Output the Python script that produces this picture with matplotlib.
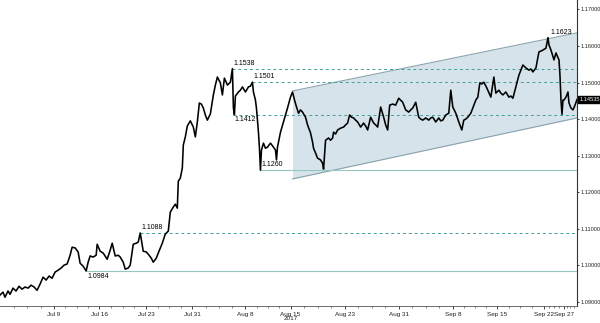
import matplotlib
matplotlib.use("Agg")
import matplotlib.pyplot as plt
import numpy as np
from matplotlib.ticker import FixedLocator, FuncFormatter

# ---- data ----
bar = [0, 3, 5, 8, 10, 13, 16, 19, 22, 25, 28, 31, 34, 37, 40, 43, 46, 49, 52, 55,
       58, 61, 64, 67, 70, 72, 75, 78, 80, 83, 86, 88, 90, 93, 96, 97, 100,
       103, 107, 110, 112, 115, 118, 120, 123, 125, 128, 130, 133, 136, 138, 140,
       143, 146, 148, 151, 153, 156, 158, 162, 165, 168, 170, 173, 175, 177, 178,
       180, 182, 183, 185, 187, 190, 193, 195, 197, 199,
       201, 203, 205, 207, 210, 213, 215, 217, 220, 222, 224, 227, 230, 232, 233,
       234, 235, 238, 240, 242, 245, 248, 250, 252, 253, 255, 256, 258, 259, 260,
       261, 263, 265, 267, 270, 273, 275, 276, 277, 280, 283, 285, 287, 290, 292,
       294, 296, 298, 300, 302, 305, 307, 310, 312, 313, 315, 317, 320, 322, 323,
       324, 325, 328, 330, 332, 333, 335, 337, 340, 343, 345, 347, 349, 351, 353,
       355, 357, 360, 363, 365, 367, 370, 373, 375, 377, 380, 383, 385, 387, 389,
       392, 395, 398, 402, 405, 408, 410, 412, 415, 418, 420, 422, 425, 428, 430,
       432, 435, 438, 440, 442, 445, 448, 450, 452, 455, 458, 461, 463, 465, 467,
       470, 473, 475, 477, 479, 481, 483, 486, 489,
       490, 493, 495, 498, 500, 502, 505, 508, 510, 512, 515, 518, 520, 522, 525,
       528, 530, 532, 535, 538, 540, 542, 545, 547, 548, 550, 553, 555, 558, 559,
       560, 561, 562, 563, 565, 567, 568, 570, 572, 574, 576]

close = [1.0918, 1.0926, 1.0912, 1.0929, 1.0920, 1.0937, 1.0929, 1.0942, 1.0934, 1.0940,
         1.0937, 1.0945, 1.0940, 1.0931, 1.0948, 1.0967, 1.0959, 1.0970, 1.0964, 1.0981,
         1.0986, 1.0992, 1.1000, 1.1003, 1.1027, 1.1049, 1.1047, 1.1036, 1.1005, 1.0997,
         1.0984, 1.1008, 1.1025, 1.1022, 1.1027, 1.1057, 1.1038,
         1.1033, 1.1016, 1.1041, 1.1060, 1.1025, 1.1027, 1.1022, 1.1008, 1.0989, 1.0992,
         1.1000, 1.1057, 1.1060, 1.1063, 1.1088, 1.1038, 1.1036, 1.1030, 1.1019, 1.1008,
         1.1019, 1.1033, 1.1060, 1.1085, 1.1093, 1.1145, 1.1159, 1.1167, 1.1156, 1.1230,
         1.1238, 1.1266, 1.1329, 1.1351, 1.1381, 1.1395, 1.1378, 1.1351, 1.1392, 1.1444,
         1.1441, 1.1430, 1.1411, 1.1397, 1.1414, 1.1466, 1.1493, 1.1515, 1.1499, 1.1466,
         1.1512, 1.1493, 1.1501, 1.1538, 1.1430, 1.1412, 1.1463, 1.1474, 1.1479, 1.1488,
         1.1474, 1.1488, 1.1490, 1.1501, 1.1474, 1.1452, 1.1430, 1.1364, 1.1320, 1.1260,
         1.1315, 1.1334, 1.1320, 1.1323, 1.1334, 1.1323, 1.1315, 1.1288, 1.1323, 1.1364,
         1.1392, 1.1411, 1.1430, 1.1460, 1.1474,
         1.1452, 1.1433, 1.1416, 1.1425, 1.1419, 1.1405, 1.1384, 1.1362, 1.1337, 1.1320,
         1.1307, 1.1293, 1.1288, 1.1279, 1.1263, 1.1301, 1.1342, 1.1348, 1.1342, 1.1348,
         1.1364, 1.1359, 1.1370, 1.1375, 1.1378, 1.1384, 1.1389, 1.1411, 1.1405, 1.1403,
         1.1397, 1.1392, 1.1378, 1.1389, 1.1381, 1.1370, 1.1405, 1.1389, 1.1384, 1.1378,
         1.1433, 1.1405, 1.1384, 1.1370, 1.1438,
         1.1441, 1.1438, 1.1457, 1.1446, 1.1425, 1.1419, 1.1425, 1.1430, 1.1446, 1.1405,
         1.1400, 1.1397, 1.1403, 1.1397, 1.1403, 1.1405, 1.1392, 1.1403, 1.1395, 1.1397,
         1.1411, 1.1416, 1.1479, 1.1433, 1.1416, 1.1392, 1.1370, 1.1397, 1.1400, 1.1405,
         1.1416, 1.1438, 1.1452, 1.1460, 1.1499, 1.1496, 1.1501, 1.1485, 1.1466,
         1.1460, 1.1515, 1.1471, 1.1479, 1.1471, 1.1466, 1.1474, 1.1460, 1.1463, 1.1457,
         1.1488, 1.1520, 1.1534, 1.1548, 1.1540, 1.1534, 1.1537, 1.1529, 1.1540, 1.1584,
         1.1586, 1.1589, 1.1594, 1.1623, 1.1603, 1.1589, 1.1562, 1.1581, 1.1562, 1.1520,
         1.1452, 1.1413, 1.1452, 1.1452, 1.1460, 1.1474, 1.1444, 1.1430, 1.1425, 1.1438,
         1.14535]

level_values = [1.1538, 1.1501, 1.1412, 1.1260, 1.1088, 1.0984]
level_start = [232, 252, 233, 260, 140, 86]
level_dashed = [True, True, True, False, True, False]
level_label_above = [True, True, False, True, True, False]

channel_x = [292, 576]
channel_upper = [1.1477, 1.1636]
channel_lower = [1.1236, 1.1403]

peak_bar = 547
peak_value = 1.1623
last_value = 1.14535

tick_pos = [54, 99, 146, 192, 245, 290, 344, 398, 452, 496, 543, 563]
tick_labels = ["Jul 9", "Jul 16", "Jul 23", "Jul 31", "Aug 8", "Aug 15\n2017",
               "Aug 23", "Aug 31", "Sep 8", "Sep 15", "Sep 22", "Sep 27"]
y_ticks = [1.09, 1.10, 1.11, 1.12, 1.13, 1.14, 1.15, 1.16, 1.17]

# ---- figure ----
plt.rcParams['font.family'] = ['Liberation Sans', 'DejaVu Sans']
fig = plt.figure(figsize=(6.0, 3.23), dpi=100)
ax = fig.add_axes([0.0, 17 / 323, 577 / 600, 306 / 323])

x_end = 576
ax.set_xlim(0, x_end)
ax.set_ylim(1.0888, 1.1726)

# channel
ax.fill_between(channel_x, channel_lower, channel_upper, color='#d6e3ea', zorder=1, lw=0)
ax.plot(channel_x, channel_upper, color='#8aa3ae', lw=0.8, zorder=2)
ax.plot(channel_x, channel_lower, color='#8aa3ae', lw=0.8, zorder=2)

# horizontal levels
for v, s, d, above in zip(level_values, level_start, level_dashed, level_label_above):
    if d:
        ax.plot([s, x_end], [v, v], color='#3f9f98', lw=0.7, ls=(0, (3, 3)), zorder=3)
    else:
        ax.plot([s, x_end], [v, v], color='#94c8c3', lw=0.8, zorder=3)
    ax.annotate(f"{v:.4f}", xy=(s, v), xytext=(1, 1.2 if above else -1.2),
                textcoords='offset points', fontsize=5.0,
                va='bottom' if above else 'top', ha='left', zorder=5)

ax.annotate(f"{peak_value:.4f}", xy=(peak_bar, peak_value), xytext=(2, 1),
            textcoords='offset points', fontsize=5.0, va='bottom', ha='left', zorder=5)

# price
ax.plot(bar, close, color='black', lw=1.15, zorder=4)

# last price tag
ax.annotate(f"{last_value:.5f}", xy=(1.0, last_value), xycoords=('axes fraction', 'data'),
            xytext=(1.8, 0), textcoords='offset points', fontsize=4.1, color='white',
            va='center', ha='left', annotation_clip=False,
            bbox=dict(boxstyle='square,pad=0.2', fc='black', ec='black'), zorder=6)

# axes styling
for side in ['left', 'top']:
    ax.spines[side].set_visible(False)
ax.spines['right'].set_color('#333333')
ax.spines['right'].set_linewidth(0.8)
ax.spines['bottom'].set_color('#555555')
ax.spines['bottom'].set_linewidth(0.6)

ax.yaxis.tick_right()
ax.set_yticks(y_ticks)
ax.yaxis.set_major_formatter(FuncFormatter(lambda v, p: f"{v:.5f}"))
ax.tick_params(axis='y', which='major', length=1.5, width=0.6, pad=1.0, labelsize=4.1,
               colors='#222222')

ax.set_xticks(tick_pos)
ax.set_xticklabels(tick_labels)
minor = []
edges = [0] + tick_pos + [x_end]
for a, b in zip(edges[:-1], edges[1:]):
    minor += list(np.linspace(a, b, 5)[1:-1])
ax.xaxis.set_minor_locator(FixedLocator(minor))
ax.tick_params(axis='x', which='major', length=2.5, width=0.6, pad=1.5, labelsize=4.6,
               colors='#222222')
ax.tick_params(axis='x', which='minor', length=1.5, width=0.5, colors='#555555')
for lbl in ax.get_xticklabels():
    lbl.set_linespacing(0.9)

fig.savefig("out.png", dpi=100)
